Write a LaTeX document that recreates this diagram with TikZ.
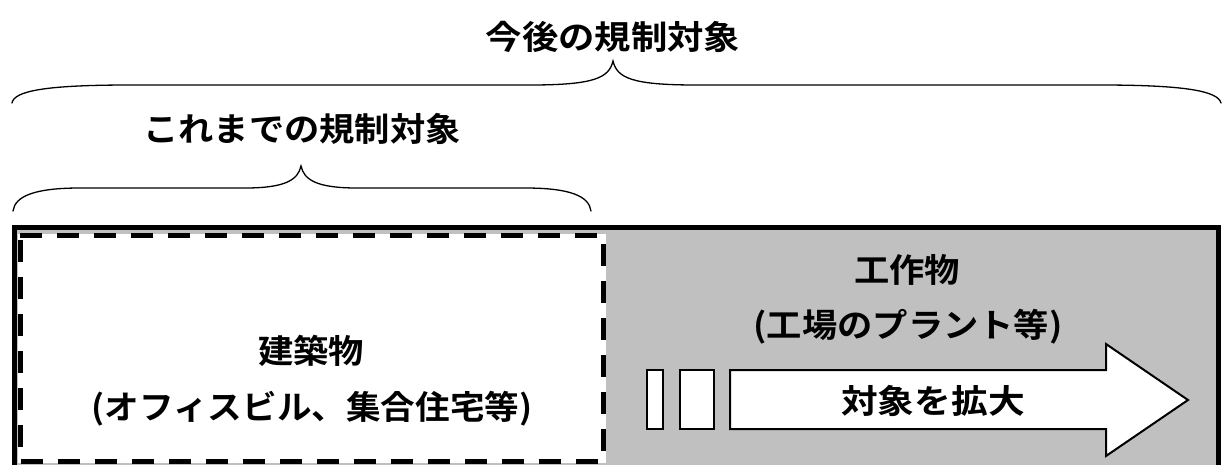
\documentclass[tikz,border=0pt]{standalone}
\usepackage{fontspec}
\newfontfamily\jp{Noto Sans CJK JP}[BoldFont={Noto Sans CJK JP Bold}]
\definecolor{panelgray}{HTML}{C0C0C0}
\tikzset{
  lbl/.style={font=\jp\bfseries\fontsize{33}{36}\selectfont, inner sep=0pt, anchor=center, xscale=1.07},
  bracestroke/.style={line width=1.3pt, line cap=round},
  smallbox/.style={draw=black, fill=white, line width=2pt},
}
\begin{document}
\begin{tikzpicture}[x=1pt,y=-1pt]
\useasboundingbox (0,0) rectangle (1224,464);
\clip (0,0) rectangle (1224,464);
% outer panel
\draw[fill=panelgray, line width=5pt] (14,227) rectangle (1218,490);
% dashed inner panel
\draw[fill=white, draw=panelgray, line width=1pt] (17,233) rectangle (606,463);
\draw[black, line width=5pt, dash pattern=on 22pt off 15pt] (20,235) -- (603,235) -- (603,461) -- (20,461) -- cycle;
% top titles
\node[lbl, xscale=1.03] (future) at (613,37) {今後の規制対象};
\node[lbl] (past) at (302,129) {これまでの規制対象};
% big brace
\coordinate (bl) at (12,103);
\coordinate (bt) at (613,61);
\coordinate (br) at (1221,103);
\draw[bracestroke] (bl) .. controls (14,91) and (45,85) .. (130,85) -- (530,85)
  .. controls (594,85) and (609,78) .. (bt)
  .. controls (617,78) and (632,85) .. (696,85) -- (1100,85)
  .. controls (1185,85) and (1218,91) .. (br);
% small brace
\coordinate (sl) at (13,211);
\coordinate (st) at (301,166);
\coordinate (sr) at (591,211);
\draw[bracestroke] (sl) .. controls (15,196) and (35,188) .. (80,188) -- (245,188)
  .. controls (285,188) and (298,180) .. (st)
  .. controls (304,180) and (317,188) .. (357,188) -- (525,188)
  .. controls (570,188) and (589,196) .. (sr);
% left content
\node[lbl] (bldg) at (311,351) {建築物};
\node[lbl, xscale=0.98] (bldgsub) at (312,409) {(オフィスビル、集合住宅等)};
% right content
\node[lbl] (works) at (907,270) {工作物};
\node[lbl] (workssub) at (908,327) {(工場のプラント等)};
% arrow
\draw[smallbox] (647,370) rectangle (663,429);
\draw[smallbox] (680,370) rectangle (714,429);
\coordinate (a1) at (730,370);
\coordinate (a2) at (1106,370);
\coordinate (a3) at (1106,344);
\coordinate (a4) at (1188,400);
\coordinate (a5) at (1106,456);
\coordinate (a6) at (1106,429);
\coordinate (a7) at (730,429);
\draw[smallbox, line join=miter] (a1) -- (a2) -- (a3) -- (a4) -- (a5) -- (a6) -- (a7) -- cycle;
\node[lbl, xscale=1.04] (expand) at (933,401) {対象を拡大};
\end{tikzpicture}
\end{document}
